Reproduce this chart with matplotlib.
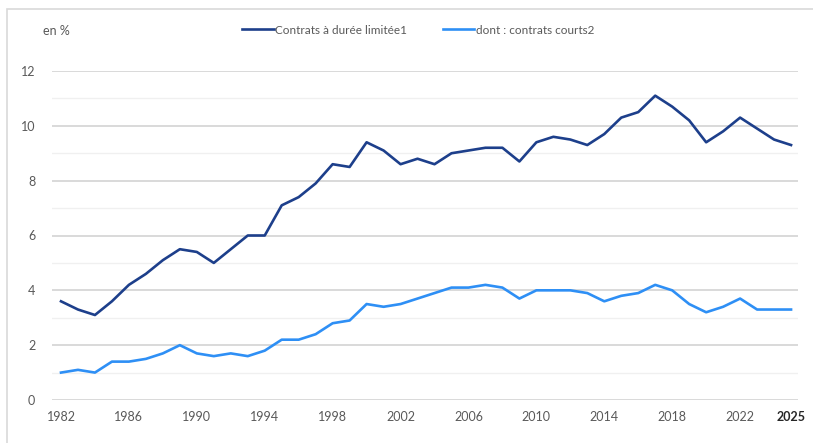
import matplotlib

matplotlib.use("Agg")
import matplotlib.pyplot as plt
from matplotlib.patches import Rectangle
import numpy as np

years = list(range(1982, 2026))
cdl = [3.6, 3.3, 3.1, 3.6, 4.2, 4.6, 5.1, 5.5, 5.4, 5.0,
       5.5, 6.0, 6.0, 7.1, 7.4, 7.9, 8.6, 8.5, 9.4, 9.1,
       8.6, 8.8, 8.6, 9.0, 9.1, 9.2, 9.2, 8.7, 9.4, 9.6,
       9.5, 9.3, 9.7, 10.3, 10.5, 11.1, 10.7, 10.2, 9.4, 9.8,
       10.3, 9.9, 9.5, 9.3]
courts = [1.0, 1.1, 1.0, 1.4, 1.4, 1.5, 1.7, 2.0, 1.7, 1.6,
          1.7, 1.6, 1.8, 2.2, 2.2, 2.4, 2.8, 2.9, 3.5, 3.4,
          3.5, 3.7, 3.9, 4.1, 4.1, 4.2, 4.1, 3.7, 4.0, 4.0,
          4.0, 3.9, 3.6, 3.8, 3.9, 4.2, 4.0, 3.5, 3.2, 3.4,
          3.7, 3.3, 3.3, 3.3]
tick_years = [1982, 1986, 1990, 1994, 1998, 2002, 2006, 2010, 2014, 2018, 2022, 2025]
label_cdl = "Contrats à durée limitée1"
label_courts = "dont : contrats courts2"

FONT = ["Lato", "DejaVu Sans"]
plt.rcParams["font.family"] = FONT

W, H = 813, 443
fig = plt.figure(figsize=(W / 100, H / 100), dpi=100)
ax = fig.add_axes([52 / W, 1 - 400 / H, (798 - 52) / W, (400 - 71) / H])

# light frame around the chart area (runs off the right/bottom of the image)
fig.patches.append(Rectangle((7 / W, -0.2), 1.2, 1.2 - 9 / H, transform=fig.transFigure,
                             fill=False, edgecolor="#d9d9d9", lw=1.2, zorder=0))

for v in range(0, 13):
    ax.axhline(v, color="#d9d9d9" if v % 2 == 0 else "#f0f0f0",
               lw=1.4 if v % 2 == 0 else 1.0, zorder=0)

ax.plot(years, cdl, color="#1d3f8b", lw=1.9, solid_joinstyle="round", zorder=3, label=label_cdl)
ax.plot(years, courts, color="#2e8ff5", lw=1.9, solid_joinstyle="round", zorder=3, label=label_courts)

ax.set_xlim(1981.47, 2025.41)
ax.set_ylim(0, 12)
ax.set_yticks(range(0, 13, 2))
ax.set_xticks(tick_years)
ax.set_xticklabels([str(y) for y in tick_years])
ax.tick_params(length=0, labelsize=9, colors="#595959")
ax.tick_params(axis="y", pad=12)
ax.tick_params(axis="x", pad=8)
last = ax.get_xticklabels()[-1]
last.set_fontweight("bold")
last.set_color("#262626")
for s in ax.spines.values():
    s.set_visible(False)

fig.text(43 / W, 1 - 31 / H, "en %", fontsize=9, color="#595959", va="center", ha="left")

leg = ax.legend(loc="center", bbox_to_anchor=(418 / W, 1 - 30 / H), bbox_transform=fig.transFigure,
                ncol=2, frameon=False, fontsize=8.5, handlelength=2.7, handletextpad=0.1,
                columnspacing=3.0)
for t in leg.get_texts():
    t.set_color("#595959")

fig.savefig("out.png", dpi=100)
